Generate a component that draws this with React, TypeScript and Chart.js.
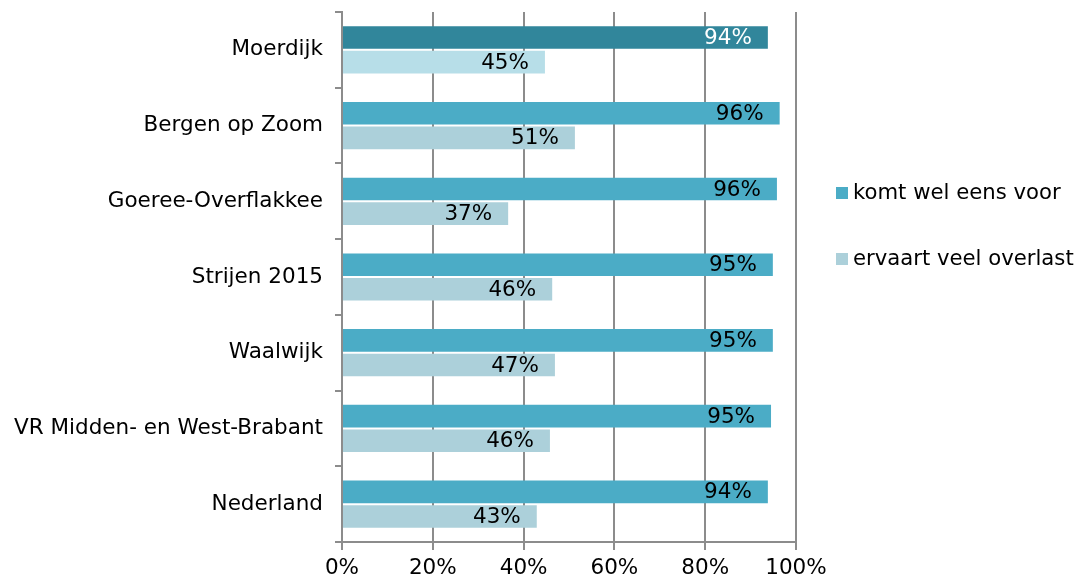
import React, { useEffect, useRef } from "react";
import { Chart, registerables } from "chart.js";

Chart.register(...registerables);

const categories = [
  "Moerdijk",
  "Bergen op Zoom",
  "Goeree-Overflakkee",
  "Strijen 2015",
  "Waalwijk",
  "VR Midden- en West-Brabant",
  "Nederland",
];
const seriesNames = ["komt wel eens voor", "ervaart veel overlast"];
const komtVoor = [93.8, 96.4, 95.8, 94.9, 94.9, 94.5, 93.8];
const overlast = [44.7, 51.3, 36.6, 46.3, 46.9, 45.8, 42.9];
const labelsKomt = ["94%", "96%", "96%", "95%", "95%", "95%", "94%"];
const labelsOverlast = ["45%", "51%", "37%", "46%", "47%", "46%", "43%"];
const xTicks = [0, 20, 40, 60, 80, 100];

const FONT = "'DejaVu Sans', Verdana, sans-serif";
const FS = 21.5;
const C1 = "#4BACC6";
const C1_HI = "#31869B";
const C2 = "#ACD0DA";
const C2_HI = "#B7DEE8";
const GRID = "#8C8C8C";

export default function App() {
  const ref = useRef<HTMLCanvasElement | null>(null);
  useEffect(() => {
    document.body.style.margin = "0";
    const ctx = ref.current!;
    const dataLabels = {
      id: "dataLabels",
      afterDatasetsDraw(chart: any) {
        const c = chart.ctx;
        c.save();
        c.font = `${FS}px ${FONT}`;
        c.textAlign = "right";
        c.textBaseline = "middle";
        const all = [labelsKomt, labelsOverlast];
        chart.data.datasets.forEach((ds: any, di: number) => {
          const meta = chart.getDatasetMeta(di);
          meta.data.forEach((el: any, i: number) => {
            c.fillStyle = di === 0 && i === 0 ? "#FFFFFF" : "#000000";
            c.fillText(all[di][i], el.x - 16, el.y + 1);
          });
        });
        c.restore();
      },
    };
    const legendPlugin = {
      id: "customLegend",
      afterDraw(chart: any) {
        const c = chart.ctx;
        c.save();
        c.font = `${FS - 0.3}px ${FONT}`;
        c.textAlign = "left";
        c.textBaseline = "middle";
        const ys = [193, 259];
        const cols = [C1, C2];
        seriesNames.forEach((n, i) => {
          c.fillStyle = cols[i];
          c.fillRect(836, ys[i] - 6, 12, 12);
          c.fillStyle = "#000000";
          c.fillText(n, 853, ys[i]);
        });
        c.restore();
      },
    };
    const chart = new Chart(ctx, {
      type: "bar",
      data: {
        labels: categories,
        datasets: [
          {
            label: seriesNames[0],
            data: komtVoor,
            backgroundColor: komtVoor.map((_, i) => (i === 0 ? C1_HI : C1)),
            categoryPercentage: 0.65,
            barPercentage: 0.92,
          },
          {
            label: seriesNames[1],
            data: overlast,
            backgroundColor: overlast.map((_, i) => (i === 0 ? C2_HI : C2)),
            categoryPercentage: 0.65,
            barPercentage: 0.92,
          },
        ],
      },
      options: {
        indexAxis: "y",
        animation: false,
        responsive: false,
        layout: { padding: { top: 12, right: 281, left: 0, bottom: 0 } },
        plugins: { legend: { display: false }, tooltip: { enabled: false } },
        scales: {
          x: {
            min: 0,
            max: 100,
            afterBuildTicks(scale: any) {
              scale.ticks = xTicks.map((v) => ({ value: v }));
            },
            afterFit(scale: any) {
              scale.height = 38;
            },
            ticks: {
              callback: (v: any) => `${v}%`,
              color: "#000",
              font: { family: FONT, size: FS },
              padding: 6,
              maxRotation: 0,
            },
            grid: { color: GRID, lineWidth: 2, tickLength: 8 },
            border: { color: GRID, width: 2 },
          },
          y: {
            afterFit(scale: any) {
              scale.width = 342;
              scale.paddingTop = 0;
              scale.paddingBottom = 0;
            },
            ticks: {
              color: "#000",
              font: { family: FONT, size: FS },
              padding: 12,
            },
            grid: {
              offset: true,
              drawOnChartArea: false,
              color: GRID,
              lineWidth: 2,
              tickLength: 7,
            },
            border: { color: GRID, width: 2 },
          },
        },
      },
      plugins: [dataLabels, legendPlugin],
    } as any);
    return () => chart.destroy();
  }, []);
  return (
    <div style={{ width: 1077, height: 580 }}>
      <canvas ref={ref} width={1077} height={580} />
    </div>
  );
}
